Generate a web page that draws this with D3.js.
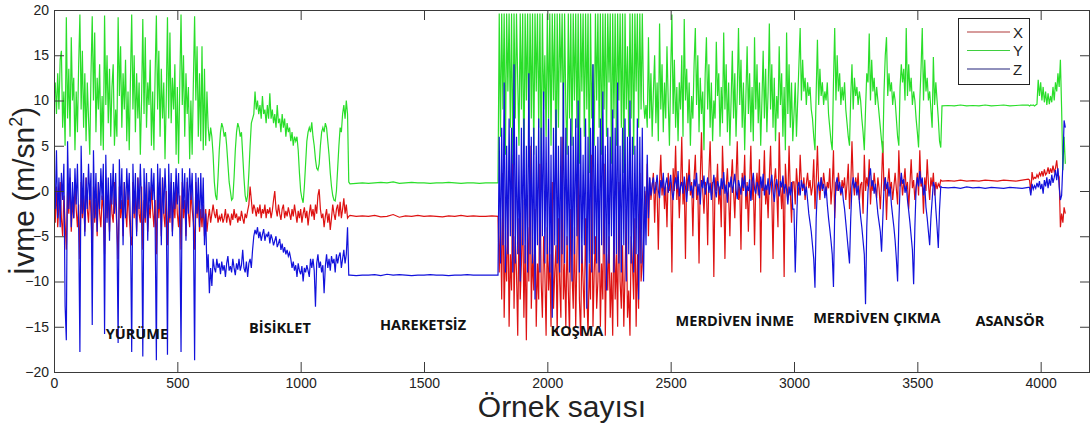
<!DOCTYPE html>
<html>
<head>
<meta charset="utf-8">
<script src="https://cdn.jsdelivr.net/npm/d3@7"></script>
<style>
  html, body { margin: 0; padding: 0; background: #fff; }
  svg { display: block; }
</style>
</head>
<body>
<svg id="chart" width="1092" height="425"></svg>
<script>
// Accelerometer recording: X, Y, Z acceleration (m/s²) per sample, one block per activity.
// Each block starts at segStart[i] and has one value every segStep[i] samples.
const segStart = [0, 600, 1200, 1800, 2400, 3000, 3600, 3955];
const segStep  = [5, 5, 25, 5, 5, 5, 25, 5];

const activities     = ["YÜRÜME", "BİSİKLET", "HAREKETSİZ", "KOŞMA", "MERDİVEN İNME", "MERDİVEN ÇIKMA", "ASANSÖR"];
const activitySample = [336, 916, 1496, 2120, 2760, 3336, 3875];
const activityValue  = [-15.7, -15.1, -14.8, -15.4, -14.3, -14.0, -14.3];

const seriesNames = ["X", "Y", "Z"];
const xTickValues = [0, 500, 1000, 1500, 2000, 2500, 3000, 3500, 4000];
const yTickValues = [-20, -15, -10, -5, 0, 5, 10, 15, 20];

const accX = [
  // walking
  [-1, -3.5, 0.5, -4, -1.5, 1, -3, -5, -0.5, -3.5,
   -6.5, 0, -2.5, 1.5, -4.5, -1, -3, 0.5, -2, -4,
   -1.5, -7.5, 1, -3, -0.5, -4.5, 1.5, -2, -3.5, 0,
   -2.5, -6.5, 0.5, -3.5, -1, -5, 1, -2.5, -4, -0.5,
   -2, -7, 1.5, -3, -0.5, -4.5, 0.5, -2.5, -3.5, 1,
   -1.5, -4, -7.5, 0.5, -3, -1, -5, 1, -2, -4,
   0, -2.5, -5, -6, 1, -3, -0.5, -4.5, 1.5, -2.5,
   -3.5, 0.5, -6.5, -1, -3.5, 1, -4.5, -1.5, -3, 0.5,
   -2, -4, -1, -7, 1, -3, -0.5, -5, 1.5, -2.5,
   -4, 0, -6, -1.5, -3.5, 1, -4.5, -1, -3, 0.5,
   -2.5, -4, -0.5, -6.5, 1, -3, -1, -5, 1, -2.5,
   -4, 0, -2, -3.5, -6.5, 1, -3, -0.5, -4.5, -2],
  // cycling
  [-4, -1.5, -5, -2, -4.5, -3, -2, -3.5, -2.5, -1.5,
   -2.5, -3, -2, -3.5, -2.8, -3.2, -2.5, -3.5, -3, -2,
   -3.5, -2.5, -3, -3.8, -2.5, -3.2, -2, -3, -2.5, -3.5,
   -2.8, -3.3, -2.2, -3, -3.6, -2.5, -3, -2.2, -1.5, 0.5,
   -1, -2.5, -1.5, -2, -2.8, -1.8, -2.5, -1.5, -3, -2,
   -2.5, -1.5, -3, -2, -2.5, -1.8, -3, -2.2, -1, 0,
   -2, -2.8, -1.5, -2.5, -3.2, -2, -1.5, -3, -2.2, -2.8,
   -1.8, -2.5, -3.2, -2, -2.8, -1.5, -2.5, -3.5, -2.2, -3,
   -2, -3.5, -2.5, -1.8, -3, -2.2, -3.8, -2.5, -1.5, -2.8,
   -2, -3.2, -1.5, -2.5, -0.5, 0.2, -2, -3, -2.5, -4,
   -2.8, -2, -3.5, -2.5, -4.3, -3, -1.5, -2.5, -3.2, -2,
   -1.5, -2.8, -1.2, -3, -2, -0.8, -2.5, -1.5, -3, -2.8],
  // still
  [-2.7, -2.8, -2.75, -2.8, -2.7, -2.85, -2.8, -2.6, -2.9, -2.75, -2.8, -2.7,
   -2.8, -2.75, -2.8, -2.85, -2.75, -2.8, -2.7, -2.8, -2.75, -2.8, -2.8, -2.75],
  // running
  [-2.8, -9, -3, -12, 2, -14, -6, -10, -1, -15,
   -7, -11, 4, -13, -5, -9, -16, -3, -12, -8,
   -1, -14, -6, -16.5, -4, -10, 5, -13, -7, -11,
   -2, -15, -8, -12, 3, -10, -14, -5, -9, -16,
   -4, -11, -7, -15, 1, -13, -9, -6, -16, -3,
   -10, -14, 6, -12, -8, -15, -5, -11, -16, -2,
   -9, -13, -4, -15, -7, 2, -12, -16, -6, -10,
   -14, -3, -11, -16, -8, -12, 4, -15, -9, -5,
   -13, -10, -2, -15, -8, -12, 3, -16, -7, -11,
   -5, -14, -9, -16, -3, -12, -7, -15, 1, -10,
   -13, -6, -15, -9, -2, -14, -11, -16, -5, -8,
   -12, -3, -15, -7, -13, 2, -10, -8, -5, 0],
  // stairs down
  [-2, 3, -5, 1.5, -1, 0.5, 2, -3.5, 1, 0,
   -6.5, 1, 4, -0.5, 1.5, -2, 0.5, -4, 2, 0,
   1, -9, 2.5, 0, 5, -1, 1.5, -3, 0.5, 6,
   -1.5, 1, -7.5, 2, 0, 3.5, -0.5, 1, -5, 1.5,
   4, -1, 0.5, -8, 1.5, 6.5, 0, -2.5, 1, 0.5,
   -6, 2, 5.5, -0.5, 1, -9.5, 1.5, 0, 3, -1.5,
   0.5, -4, 5, 1, -7.5, 0.5, 2.5, -0.5, -5, 1,
   3.5, 0, -3, 1.5, 5.5, -1, 0.5, -6.5, 2, 0,
   4, -2, 1, -4.5, 0.5, 5, -1, 1.5, -6, 0.5,
   2, -0.5, 3.5, -9, 1, 0, 4.5, -1.5, 0.5, -3,
   1.5, 5, -0.5, -7.5, 1, 2.5, 0, -4, 6.5, 0.5,
   -2, 1.5, -9.5, 3, 0.5, -1, 5, 0, -3.5, 1],
  // stairs up
  [1, -1.5, 2.5, 0.5, -0.5, 4, 1, 0, 1.5, -1,
   0.8, 2, 0.3, 1.2, -0.5, 0.5, 3.5, -2, 1, 5,
   0.5, -1, 1.5, 0, 2, 0.8, -0.5, 1, 0.3, 2.5,
   -1.5, 0.5, 4.5, -3, 1, 0, 2, 0.5, -0.5, 1.2,
   0.3, 1.5, -1, 0.8, 3, -2, 0.5, 5.5, 1, -0.5,
   1.5, 0.2, 2, -1, 0.7, 1, -2.5, 4, 0, 1.5,
   0.5, 3.5, -1.5, 1, 0, 2, 0.5, -0.8, 1.5, 0.3,
   -2, 1, 5.5, 0, 1.5, -3.2, 0.8, 2.5, 0, 1,
   -1, 0.5, 2, 0.2, -1.5, 4.5, 0.5, 1.5, -0.5, 1,
   2.5, 0, 1, -2, 0.8, 3.5, 0.3, 1.2, -1, 0.5,
   2, -0.5, 4.5, 0.5, 1, -2.5, 1.5, 0, 3.5, 0.8,
   -1, 1.5, 0.5, 2, -0.5, 1, 0.2, 0.8, 0.5, 1.2],
  // elevator (steady)
  [1.1, 1.15, 1.1, 1.2, 1.1, 1.15, 1.1, 1.2, 1.15, 1.1, 1.2, 1.15, 1.1, 1.2, 1.3],
  // elevator (moving) and end of recording
  [1.2, -0.2, 2.1, 1.3, 1.5, 1.4, 1.8, 1.5, 2, 1.7,
   2.2, 1.6, 2.4, 1.8, 2, 2.6, 1.9, 2.5, 2, 2.8,
   2.1, 2.5, 3.4, 2, 1.5, -4, -2.5, -3.5, -1.8, -2.5]
];

const accY = [
  [10.5, 12, 8.5, 13, 9, 14.5, 15.5, 7, 11, 5,
   19.2, 8, 13.5, 6, 17, 10, 12.5, 4.5, 11, 6.5,
   14, 19.5, 9, 15.5, 7, 13, 5.5, 12, 8, 4,
   13, 19.3, 10, 17.5, 6.5, 12.5, 9, 14, 5, 10.5,
   4.5, 19.4, 9.5, 15, 7.5, 13.5, 6, 11.5, 14, 5,
   9, 6, 19.2, 10.5, 16, 7, 13, 9, 14.5, 5.5,
   11, 4.5, 12.5, 19.5, 9, 15, 6.5, 13, 8, 12,
   4, 10, 19, 8.5, 17, 7, 12, 9.5, 14.5, 5,
   11, 4.5, 13, 19.4, 9, 15.5, 6, 13.5, 8, 12,
   3.5, 10, 19.2, 8, 17.5, 7.5, 12.5, 9, 14, 4,
   11.5, 3, 12, 19.5, 9.5, 15, 6, 13, 8.5, 11.5,
   3.5, 10, 4, 12, 19.3, 10, 16, 6, 13, 5.5],
  [16, 4.5, 13.5, 5, 11, 7, 5.5, 7, 6, 4,
   1, -0.5, -1, 1.5, 4.5, 6.5, 7.5, 7, 6, 6.5,
   5, 3, 1, 0, -1, -0.8, 1.5, 4.5, 6.5, 7.5,
   7, 6, 6.5, 4, 1.5, -0.5, -1.2, -0.5, 2, 5,
   7.5, 8, 8.5, 11, 9, 10, 8.5, 9.5, 8, 10.5,
   8.5, 9, 7.5, 9.5, 8, 10.8, 8, 9, 7.5, 8.5,
   7, 9.5, 7.5, 8, 6.5, 8.5, 7, 8, 6, 7.5,
   6.5, 7, 5.5, 6.5, 5, 6, 5.5, 6, 4.5, 2,
   0, -0.8, -1.3, 0.5, 3, 5.5, 6.5, 7, 6.5, 7.6,
   6, 5, 3.5, 2.5, 2.3, 3, 5, 6.5, 7, 6.5,
   7.5, 7, 5.5, 4, 2, 0.5, -0.5, -1, -1.1, 0,
   2.5, 5, 7, 6.5, 8.5, 9.5, 8, 10, 8.5, 1],
  [0.8, 0.85, 0.9, 0.85, 0.9, 0.95, 0.9, 1.0, 0.85, 0.9, 0.95, 0.9,
   0.9, 0.85, 0.9, 0.9, 0.95, 0.9, 0.85, 0.9, 0.9, 0.85, 0.9, 0.9],
  [0.9, 19.6, 6, 19.6, 9, 19.6, 4, 19.6, 11, 19.6,
   7, 19.6, 3, 19.6, 8, 19.6, 12, 5, 19.6, 9,
   19.6, 2, 19.6, 10, 19.6, 6, 19.6, 8, 19.6, 4,
   19.6, 11, 19.6, 7, 19.6, 3, 19.6, 9, 15, 6,
   19.6, 8, 19.6, 5, 19.6, 10, 19.6, 1, 19.6, 7,
   19.6, 12, 19.6, 6, 19.6, 9, 4, 19.6, 8, 19.6,
   5, 19.6, 10, 19.6, 7, 19.6, 3, 19.6, 11, 19.6,
   6, 19.6, 9, 19.6, 2, 19.6, 8, 14, 5, 19.6,
   10, 19.6, 7, 19.6, 4, 19.6, 9, 19.6, 6, 19.6,
   12, 19.6, 3, 19.6, 8, 19.6, 5, 19.6, 10, 19.6,
   7, 19.6, 2, 19.6, 9, 16, 6, 19.6, 8, 19.6,
   4, 19.6, 11, 19.6, 7, 19.6, 9, 19.6, 10, 8],
  [9.5, 7, 17, 8, 13, 6, 11, 15, 7.5, 12,
   5.5, 18.5, 9, 14, 6.5, 12, 8, 16, 10, 5,
   13, 19.5, 8.5, 14.5, 7, 11.5, 5.5, 12, 9, 15,
   6, 19, 10, 13.5, 7.5, 12, 5, 10.5, 8, 14,
   18, 9.5, 15, 6.5, 12.5, 8.5, 11, 4.5, 13, 17,
   9, 14, 7, 12, 5.5, 10, 8, 16.5, 10.5, 13,
   6, 11.5, 7.5, 17.5, 9, 14, 6.5, 12, 5, 10,
   15.5, 8, 13, 6, 11, 18, 9.5, 14.5, 7, 12,
   4.5, 10.5, 16, 8.5, 13, 6.5, 11.5, 5.5, 17, 9,
   14, 7.5, 12, 5, 10, 15.5, 8, 13.5, 6.5, 11,
   18.5, 9, 14, 7, 12.5, 5.5, 10.5, 8, 16, 9.5,
   13, 6, 11.5, 4.5, 17.5, 8.5, 14, 7, 12, 5.5],
  [8.5, 12, 6, 10, 14, 18, 10, 14.5, 11, 12.5,
   9.5, 12, 10.5, 11.5, 9, 8, 6, 4.5, 11, 16.7,
   9.5, 13.5, 10.5, 12, 9.5, 11, 10, 12, 8.5, 7,
   5.5, 4.5, 12, 18, 10, 15, 11, 13, 9.5, 11.5,
   10, 12, 9, 7.5, 6, 5, 10.5, 14, 9, 12.5,
   10.5, 11.5, 9.5, 11, 10, 8, 6.5, 4.5, 9, 13,
   12, 17.4, 10, 14.5, 11, 12.5, 9.5, 11.5, 10, 8.5,
   7, 5.5, 4.2, 11, 15, 17, 10.5, 13, 11, 12,
   9.5, 11, 10, 8, 6, 5, 11.5, 14, 12, 13.5,
   10, 18, 10.5, 14, 11, 12.5, 9.5, 11, 10, 8,
   6.5, 4.8, 10, 13.5, 18, 10, 14.5, 11, 12.5, 10,
   11, 9, 7, 14.8, 9.5, 12, 10, 8, 5.5, 4.8],
  [9.4, 9.45, 9.4, 9.5, 9.4, 9.45, 9.4, 9.5, 9.4, 9.45, 9.5, 9.4, 9.45, 9.5, 9.5],
  [9.4, 9.5, 9.45, 9.5, 9.4, 9.5, 9.6, 12.3, 10.5, 12,
   10, 11.5, 9.8, 11, 9.5, 10.8, 9.6, 10.5, 9.8, 11.5,
   10, 12, 11, 13, 11.5, 14.5, 9, 2.3, 6, 3]
];

const accZ = [
  [1, -2, 4.5, -3, 1.5, -4, 2, -1, 3, -12.7,
   -16.5, 5.5, -2, 2.5, -4, 1, -3, 2.5, -1.5, 3,
   -3.5, -17.8, 5, -2.5, 2, -5, 1.5, -2, 3, -1,
   2, -14.8, 4.5, -3, 2, -4.5, 1, -2, 2.5, -1,
   3, -15.8, 4, -3.5, 1.5, -5.5, 2, -1.5, 3, -2.5,
   2, -4, -16.8, 3.5, -2, 2.5, -6, 1, -3, 2.5,
   -1, 2, -4, -17.8, 3, -2.5, 2, -5, 1.5, -2,
   3, -1.5, -18.3, 2.5, -3, 2, -5.5, 1, -2, 2.5,
   -1, 2, -3.5, -18.7, 3, -2, 2.5, -6, 1.5, -2.5,
   2.5, -1, -18.1, 3, -3, 2, -5, 1, -2, 2.5,
   -1.5, 2, -4, -17.8, 2.5, -2, 2, -5.5, 1.5, -2.5,
   2.5, -1, 2, -3, -18.7, 2, -2.5, 1.5, -4, 2],
  [-3, 1.5, -6, -2.5, -9, -7, -11.3, -8.5, -10.5, -7.5,
   -8.5, -9, -7.5, -8.5, -8, -9.2, -7.8, -8.8, -8.2, -9.5,
   -8, -7.2, -8.8, -8.3, -9, -7.5, -8.5, -9.3, -8, -8.7,
   -7.5, -8.8, -8.2, -6.5, -8.5, -9, -7.8, -9.5, -8, -7.5,
   -8.5, -6.5, -5, -4.3, -4.8, -4, -5.2, -4.5, -5.5, -4.8,
   -4.2, -5.5, -4.8, -5, -4.5, -5.8, -4.8, -5.3, -6, -5.5,
   -5, -6.2, -5.8, -5.3, -6.5, -5.8, -6.8, -6.2, -7, -6.5,
   -7.2, -6.8, -7.5, -8.5, -7.8, -8.8, -8.2, -9.5, -8, -8.8,
   -9.2, -8.3, -10, -8.5, -9, -8.2, -8.8, -9.5, -7.5, -8.5,
   -7.5, -8.8, -12.8, -8, -7, -8.5, -7.8, -9, -8.2, -11.3,
   -8.3, -7, -8.5, -7.5, -8.8, -7.2, -8, -7.5, -9, -7,
   -8, -7.2, -6.8, -8.5, -7.5, -6.5, -8, -7, -4, -9.3],
  [-9.3, -9.35, -9.3, -9.3, -9.25, -9.35, -9.2, -9.3, -9.25, -9.3, -9.35, -9.3,
   -9.3, -9.25, -9.3, -9.3, -9.35, -9.3, -9.3, -9.25, -9.3, -9.3, -9.3, -9.3],
  [-9.3, 6, -8, 7, -6, 12, -9, 5, -7, 8,
   -5, 7, -9, 14, -8, 6, -7, 4, -10, 7,
   -6, 8, -8, 5, -9, 13, -7, 6, -8, 7,
   -12, 5, -6, 8, -9, 7, -5, 11, -8, 6,
   -7, 8, -9, 4, -14, 7, -6, 9, -8, 5,
   -9, 6, -7, 12, -8, 7, -6, 5, -9, 8,
   -10, 6, -7, 8, -5, 10, -9, 7, -8, 4,
   -6, 8, -13, 6, -8, 7, -9, 14, -7, 5,
   -8, 6, -9, 8, -6, 11, -7, 5, -11, 7,
   -8, 6, -5, 9, -9, 7, -7, 12, -8, 5,
   -9, 7, -6, 8, -10, 6, -7, 10, -8, 6,
   -9, 5, -7, 8, -12, 6, -8, 7, -10, 0.5],
  [-6, 4, -3, 1.5, -0.5, 0.8, 1.5, -0.3, 0.5, 1.8,
   0, -0.8, 1.2, 0.3, 2, -0.5, 0.8, 1.5, -0.2, 0.6,
   1.8, 0, -1, 0.7, 1.5, 0.2, 2.2, -0.6, 0.5, 1,
   -0.3, 1.6, 0.4, -1.2, 0.9, 1.8, 0, 0.6, -0.8, 1.3,
   0.5, 2, -0.5, 0.8, -1.5, 1.2, 0.3, 1.7, -0.4, 0.6,
   1.5, -0.2, 0.9, -1, 0.4, 1.8, 0.1, -0.7, 1.1, 0.5,
   -0.5, 1.4, 0.2, 2.1, -0.3, 0.7, -1.3, 1, 0.4, 1.6,
   -0.2, 0.8, 1.9, 0.1, -0.9, 1.2, 0.5, -0.4, 1.5, 0.3,
   1.7, -0.6, 0.6, 0, 1.3, -1.1, 0.9, 2, 0.2, -0.3,
   1, 0.5, -0.8, 1.6, 0.3, 1.9, -0.5, 0.7, 0.1, 1.4,
   -0.4, 0.9, 1.8, 0, -1.2, 0.6, 1.3, 0.2, -0.6, 1.1,
   0.4, 1.7, -0.3, 0.8, 0.2, -1.5, 0.5, -0.5, 1, -2],
  [-2, -9, -4, 0.5, 1, -0.5, 1.2, 0.3, 0.8, -0.5,
   0.5, -1, -2.5, -3.5, -4.5, -6, -7.5, -10.7, -3, 0.5,
   1, 0, 1.5, 0.2, 0.8, -0.8, 0.5, -1.5, -3, -4.2,
   -5.5, -7, -10.6, -2.5, 0.8, 1.5, 0, 1, -0.3, 0.5,
   -1, -2, -3.5, -5, -6.5, -8, -3, 0.5, 1.5, 0.3,
   1, -0.5, 0.6, -1.2, -2.8, -4, -5.5, -7, -12.5, -4,
   0, 1.5, 2.5, 0.5, 1.2, -0.3, 0.8, -1, -2.5, -3.5,
   -4.5, -6.7, -3, 0.5, 1.5, 0.2, 1, -0.6, 0.5, -1.5,
   -2.8, -4, -5.5, -7.5, -10, -3.5, 0.5, 2, 0.8, 1.3,
   -0.2, 0.6, -1, -2.2, -3.5, -5, -6.5, -10.3, -4, 0.3,
   1.5, 0.5, 2.2, 0.8, 1.5, -0.5, 0.7, -1.8, -3, -4.5,
   -6, -3, -1, 1, 0.5, -2, -4, -6.3, -2, 0.5],
  [0.4, 0.35, 0.4, 0.3, 0.45, 0.35, 0.4, 0.3, 0.4, 0.35, 0.3, 0.4, 0.35, 0.3, 0.4],
  [0.4, -0.5, 0.8, 0.2, 0.6, 0.3, 0.9, 0.4, 1.1, 0.2,
   0.8, -0.3, 1.2, 0.5, 1.5, 0.3, 1.3, 0.6, 1.8, 0.9,
   1.5, 2.3, 1.2, 2.5, 0.5, -1, -0.5, 3, 7.8, 7]
];

const seriesColors = ["#de1212", "#2ade2a", "#1212dc"];
const legendColors = ["#b03a3a", "#3fcf3f", "#22227a"];

const svg = d3.select("#chart");
const W = 1092, H = 425;
const plot = { left: 54, right: 1090, top: 10, bottom: 372 };

svg.append("rect").attr("width", W).attr("height", H).attr("fill", "#fff");

const x = d3.scaleLinear().domain([0, 4200]).range([plot.left, plot.right]);
const y = d3.scaleLinear().domain([-20, 20]).range([plot.bottom, plot.top]);

svg.append("defs").append("clipPath").attr("id", "plot-clip")
  .append("rect")
  .attr("x", plot.left).attr("y", plot.top)
  .attr("width", plot.right - plot.left).attr("height", plot.bottom - plot.top);

function toPoints(blocks) {
  return blocks.flatMap((vals, i) => vals.map((v, j) => [segStart[i] + j * segStep[i], v]));
}

const line = d3.line().x(d => x(d[0])).y(d => y(d[1]));

const traces = svg.append("g").attr("clip-path", "url(#plot-clip)");
[accX, accY, accZ].forEach((blocks, k) => {
  traces.append("path")
    .datum(toPoints(blocks))
    .attr("fill", "none")
    .attr("stroke", seriesColors[k])
    .attr("stroke-width", 1.2)
    .attr("stroke-linejoin", "miter")
    .attr("d", line);
});

// activity annotations
svg.append("g")
  .selectAll("text")
  .data(activities)
  .join("text")
  .attr("x", (d, i) => x(activitySample[i]))
  .attr("y", (d, i) => y(activityValue[i]))
  .attr("text-anchor", "middle")
  .attr("dominant-baseline", "central")
  .attr("font-family", "'Open Sans', Lato, sans-serif")
  .attr("font-weight", 700)
  .attr("font-size", 14.5)
  .attr("fill", "#111")
  .text(d => d);

// axes with inward ticks on all four sides
const tickFont = "'Liberation Sans', Arial, sans-serif";
const tickLen = 10;
const axisColor = "#3a3a3a";

function styleAxis(g) {
  g.select(".domain").remove();
  g.selectAll(".tick line").attr("stroke", axisColor);
  g.selectAll(".tick text").attr("font-family", tickFont).attr("font-size", 14).attr("fill", "#222");
}

svg.append("g").attr("transform", `translate(0,${plot.bottom})`)
  .call(d3.axisBottom(x).tickValues(xTickValues).tickSizeInner(-tickLen).tickSizeOuter(0).tickPadding(6).tickFormat(d3.format("d")))
  .call(styleAxis);
svg.append("g").attr("transform", `translate(0,${plot.top})`)
  .call(d3.axisTop(x).tickValues(xTickValues).tickSizeInner(-tickLen).tickSizeOuter(0).tickFormat(""))
  .call(styleAxis);
svg.append("g").attr("transform", `translate(${plot.left},0)`)
  .call(d3.axisLeft(y).tickValues(yTickValues).tickSizeInner(-tickLen).tickSizeOuter(0).tickPadding(5).tickFormat(d3.format("d")))
  .call(styleAxis);
svg.append("g").attr("transform", `translate(${plot.right},0)`)
  .call(d3.axisRight(y).tickValues(yTickValues).tickSizeInner(-tickLen).tickSizeOuter(0).tickFormat(""))
  .call(styleAxis);

svg.append("rect")
  .attr("x", plot.left + 0.5).attr("y", plot.top + 0.5)
  .attr("width", plot.right - plot.left - 1).attr("height", plot.bottom - plot.top)
  .attr("fill", "none").attr("stroke", axisColor).attr("stroke-width", 1);

// axis titles
svg.append("text")
  .attr("x", 562)
  .attr("y", 417)
  .attr("text-anchor", "middle")
  .attr("font-family", tickFont)
  .attr("font-size", 30)
  .attr("fill", "#222")
  .text("Örnek sayısı");

const yTitle = svg.append("text")
  .attr("transform", `translate(34,${(plot.top + plot.bottom) / 2}) rotate(-90)`)
  .attr("text-anchor", "middle")
  .attr("font-family", tickFont)
  .attr("font-size", 30)
  .attr("fill", "#222");
yTitle.append("tspan").text("İvme (m/sn");
yTitle.append("tspan").attr("font-size", 18).attr("dy", -12).text("2");
yTitle.append("tspan").attr("dy", 12).text(")");

// legend
const legend = svg.append("g").attr("transform", "translate(958,18)");
legend.append("rect").attr("x", 0.5).attr("y", 0.5).attr("width", 71).attr("height", 66)
  .attr("fill", "#fff").attr("stroke", "#222").attr("stroke-width", 1);
seriesNames.forEach((name, k) => {
  const ly = 14 + k * 18.5;
  legend.append("line").attr("x1", 9).attr("x2", 52).attr("y1", ly).attr("y2", ly)
    .attr("stroke", legendColors[k]).attr("stroke-width", 1.2);
  legend.append("text").attr("x", 55).attr("y", ly).attr("dominant-baseline", "central")
    .attr("font-family", tickFont).attr("font-size", 15).attr("fill", "#222").text(name);
});
</script>
</body>
</html>
